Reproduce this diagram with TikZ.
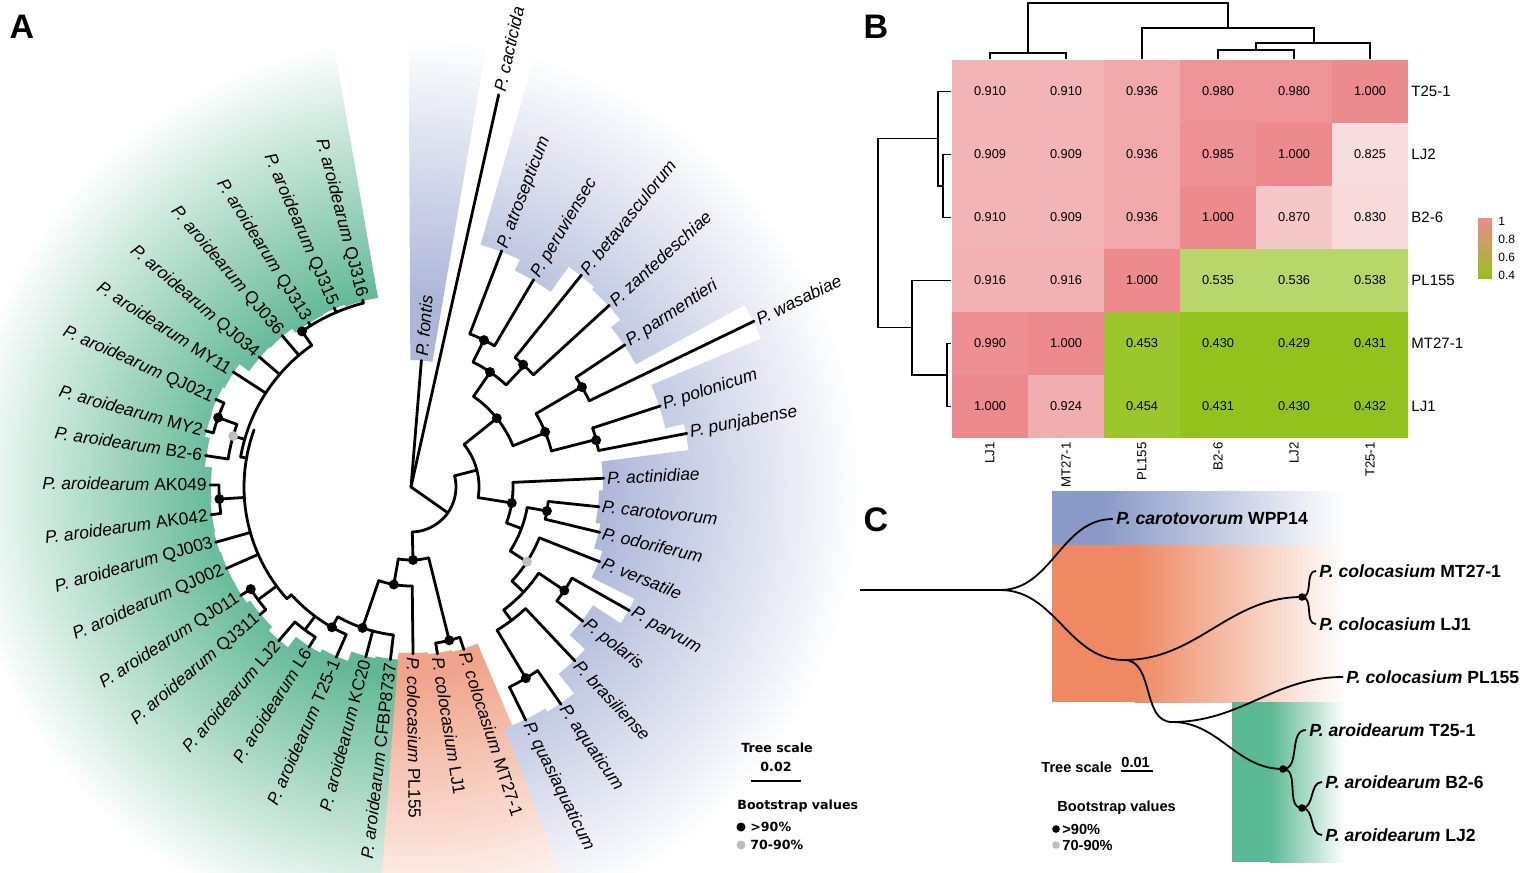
\documentclass[tikz,border=0pt]{standalone}
\usepackage{fontspec}
\setmainfont{Liberation Sans}
\newfontfamily\legfont{DejaVu Sans}

\definecolor{aroG}{RGB}{96,184,150}
\definecolor{colO}{RGB}{240,165,138}
\definecolor{othB}{RGB}{172,182,216}
\definecolor{hpink}{RGB}{236,138,142}
\definecolor{hgreen}{RGB}{148,194,28}
\definecolor{cblue}{RGB}{137,153,200}
\definecolor{corange}{RGB}{238,137,98}
\definecolor{cgreen}{RGB}{90,185,150}
\definecolor{bsgray}{RGB}{190,190,190}

\pgfdeclareradialshading{fadeG}{\pgfpoint{0bp}{0bp}}{color(0bp)=(aroG); color(10.5bp)=(aroG); color(25bp)=(white); color(50bp)=(white)}
\pgfdeclareradialshading{fadeO}{\pgfpoint{0bp}{0bp}}{color(0bp)=(colO); color(10.5bp)=(colO); color(25bp)=(white); color(50bp)=(white)}
\pgfdeclareradialshading{fadeB}{\pgfpoint{0bp}{0bp}}{color(0bp)=(othB); color(10.5bp)=(othB); color(25bp)=(white); color(50bp)=(white)}

% polar tree helpers: angle, radius
\newcommand{\brad}[3]{\draw[branch] ({#1}:#2) -- ({#1}:#3);}
\newcommand{\barc}[3]{\draw[branch] ({#1}:#3) arc[start angle={#1}, end angle={#2}, radius=#3];}
\newcommand{\bdot}[2]{\fill ({#1}:#2) circle (5);}
\newcommand{\gdot}[2]{\fill[bsgray] ({#1}:#2) circle (5);}
\newcommand{\lwedge}[2]{({#1-5}:#2) arc[start angle={#1-5}, end angle={#1+5}, radius=#2] -- ({#1+5}:450) arc[start angle={#1+5}, end angle={#1-5}, radius=450] -- cycle}

\begin{document}
\begin{tikzpicture}[
    x=0.5pt, y=0.5pt,
    branch/.style={line width=1.4pt, line cap=round, line join=round},
    leafR/.style={font=\fontsize{8.7}{10}\selectfont, inner sep=0pt, anchor=west},
    leafL/.style={font=\fontsize{8.7}{10}\selectfont, inner sep=0pt, anchor=east},
    panel/.style={font=\fontsize{17}{20}\selectfont\bfseries, inner sep=0pt},
    aleg/.style={font=\legfont\fontsize{6.3}{7.5}\selectfont\bfseries, inner sep=0pt},
    hcell/.style={minimum width=38.4pt, minimum height=31.9pt, inner sep=0pt, font=\fontsize{6.4}{7.5}\selectfont},
    rowlab/.style={font=\fontsize{7.5}{9}\selectfont, inner sep=0pt, anchor=west},
    collab/.style={font=\fontsize{6.6}{8}\selectfont, inner sep=0pt, anchor=east, rotate=90},
    dendro/.style={line width=0.6pt},
    cbranch/.style={line width=0.9pt, out=0, in=180},
    clab/.style={font=\fontsize{8.8}{10}\selectfont\bfseries, inner sep=0pt, anchor=west},
    cleg/.style={font=\fontsize{7.3}{9}\selectfont\bfseries, inner sep=0pt, anchor=west}
]
    \useasboundingbox (0,0) rectangle (1524,-872);

    % Panel letters
    \node[panel] (pa) at (22,-27) {A};
    \node[panel] (pb) at (876,-27) {B};
    \node[panel] (pc) at (876,-520) {C};

    % ---------------- A: circular tree ----------------
    \begin{scope}[shift={(411,-487)}]
    % Label backgrounds
    \begin{scope}
        \clip \lwedge{-96.8}{173} \lwedge{-104.9}{175} \lwedge{-113.7}{185} \lwedge{-122.5}{189}
              \lwedge{-130.7}{202} \lwedge{-139.8}{197} \lwedge{-147.5}{201} \lwedge{-156.2}{201}
              \lwedge{-164.2}{202} \lwedge{-172.1}{201} \lwedge{179.4}{200} \lwedge{171.3}{207}
              \lwedge{164.7}{212} \lwedge{155.8}{213} \lwedge{147.1}{211} \lwedge{139.4}{199}
              \lwedge{130.4}{198} \lwedge{121.9}{193} \lwedge{113.2}{194} \lwedge{104.9}{192};
        \shade[shading=fadeG] (0,0) circle (450);
    \end{scope}
    \begin{scope}
        \clip \lwedge{-89.3}{166} \lwedge{-81}{168} \lwedge{-72}{170};
        \shade[shading=fadeO] (0,0) circle (450);
    \end{scope}
    \begin{scope}
        \clip \lwedge{85.3}{127} \lwedge{69}{252} \lwedge{59.4}{240} \lwedge{51.2}{271}
              \lwedge{42.5}{268} \lwedge{33.6}{256} \lwedge{25.8}{380} \lwedge{18}{261}
              \lwedge{11}{280} \lwedge{2.6}{192} \lwedge{-6}{188} \lwedge{-13.5}{193}
              \lwedge{-21.6}{202} \lwedge{-29.5}{250} \lwedge{-38}{217} \lwedge{-46.7}{238}
              \lwedge{-55.4}{263} \lwedge{-63.8}{259};
        \shade[shading=fadeB] (0,0) circle (450);
    \end{scope}

    % Root
    \brad{77.4}{0}{402}
    \brad{85.3}{0}{127}
    \brad{-35}{0}{45}
    \barc{-88.4}{14.4}{45}
    \brad{14.4}{45}{68}
    \barc{-9}{38.7}{68}

    % Upper right clade
    \brad{38.7}{68}{110}
    \barc{22}{55.4}{110}
    \brad{55.4}{110}{139.5}
    \barc{47}{63.6}{139.5}
    \brad{63.6}{139.5}{164}
    \barc{59.4}{69}{164}
    \brad{69}{164}{253}
    \brad{59.4}{164}{241}
    \brad{47}{139.5}{166}
    \barc{42.5}{51.2}{166}
    \brad{51.2}{166}{272}
    \brad{42.5}{166}{269}
    \brad{22}{110}{145}
    \barc{14.4}{30.4}{145}
    \brad{30.4}{145}{198}
    \barc{25.8}{33.6}{198}
    \brad{33.6}{198}{257}
    \brad{25.8}{198}{381}
    \brad{14.4}{145}{191}
    \barc{11}{18}{191}
    \brad{18}{191}{262}
    \brad{11}{191}{281}

    % Lower right clade
    \brad{-9}{68}{102}
    \barc{-20.6}{2.6}{102}
    \brad{2.6}{102}{193}
    \brad{-20.6}{102}{118}
    \barc{-32.8}{-10}{118}
    \brad{-10}{118}{138}
    \barc{-13.5}{-6}{138}
    \brad{-6}{138}{189}
    \brad{-13.5}{138}{194}
    \brad{-32.8}{118}{138}
    \barc{-43}{-21.6}{138}
    \brad{-21.6}{138}{203}
    \brad{-43}{138}{154}
    \barc{-53}{-34}{154}
    \brad{-34}{154}{185}
    \barc{-38}{-29.5}{185}
    \brad{-29.5}{185}{251}
    \brad{-38}{185}{218}
    \brad{-53}{154}{167}
    \barc{-59}{-46.7}{167}
    \brad{-46.7}{167}{239}
    \brad{-59}{167}{223}
    \barc{-63.8}{-55.4}{223}
    \brad{-55.4}{223}{264}
    \brad{-63.8}{223}{260}

    % Colocasium and aroidearum
    \brad{-88.4}{45}{73}
    \barc{-100}{-76}{73}
    \brad{-76}{73}{158}
    \barc{-81}{-72}{158}
    \brad{-81}{158}{169}
    \brad{-72}{158}{171}
    \brad{-100}{73}{99}
    \barc{-109}{-89.3}{99}
    \brad{-89.3}{99}{167}
    \brad{-109}{99}{149}
    \barc{-119.4}{-96.8}{149}
    \brad{-96.8}{149}{174}
    \brad{-104.9}{149}{176}
    \brad{-119.4}{149}{161}
    \barc{-138}{-113.7}{161}
    \brad{-113.7}{161}{186}
    \brad{-126.6}{161}{178}
    \barc{-130.7}{-122.5}{178}
    \brad{-122.5}{178}{190}
    \brad{-130.7}{178}{203}
    \brad{-138}{161}{167}
    \barc{-200}{-138}{167}
    \brad{-143.6}{167}{190}
    \barc{-147.5}{-139.8}{190}
    \brad{-139.8}{190}{198}
    \brad{-147.5}{190}{202}
    \brad{-156.2}{167}{202}
    \brad{-164.2}{167}{203}
    \brad{-176.4}{167}{192}
    \barc{-180.6}{-172.1}{192}
    \brad{-172.1}{192}{202}
    \brad{179.4}{192}{201}
    \brad{-190}{167}{173}
    \barc{-235}{-190}{173}
    \brad{164}{173}{185}
    \barc{160.2}{171.3}{185}
    \brad{171.3}{185}{208}
    \brad{160.2}{185}{205}
    \barc{155.8}{164.7}{205}
    \brad{164.7}{205}{213}
    \brad{155.8}{205}{214}
    \brad{147.1}{173}{212}
    \brad{139.4}{173}{200}
    \brad{130.4}{173}{199}
    \brad{125}{173}{190}
    \barc{104.5}{125}{190}
    \brad{121.9}{190}{194}
    \brad{113.2}{190}{195}
    \brad{104.5}{190}{193}

    % Bootstrap dots
    \bdot{38.7}{110} \bdot{55.5}{139.5} \bdot{63.6}{164} \bdot{47.5}{166}
    \bdot{22.3}{145} \bdot{30.3}{198} \bdot{14.2}{191} \bdot{-9}{102}
    \bdot{-10}{138} \bdot{-34}{185} \bdot{-59}{223} \bdot{-88.4}{73}
    \bdot{-76}{158} \bdot{-100}{99} \bdot{-109}{149} \bdot{-119.4}{161}
    \bdot{-147.5}{190} \bdot{-176.4}{192} \bdot{160.2}{205} \bdot{125}{190}
    \gdot{-32.8}{138} \gdot{164}{185}

    % Leaf labels, right side
    \node[leafR, rotate=77.4] (lcacti) at (77.4:405) {\textit{P. cacticida}};
    \node[leafR, rotate=85.3] (lfontis) at (85.3:131) {\textit{P. fontis}};
    \node[leafR, rotate=69] (latro) at (69:256) {\textit{P. atrosepticum}};
    \node[leafR, rotate=59.4] (lperu) at (59.4:244) {\textit{P. peruviensec}};
    \node[leafR, rotate=51.2] (lbeta) at (51.2:275) {\textit{P. betavasculorum}};
    \node[leafR, rotate=42.5] (lzant) at (42.5:272) {\textit{P. zantedeschiae}};
    \node[leafR, rotate=33.6] (lparm) at (33.6:260) {\textit{P. parmentieri}};
    \node[leafR, rotate=25.8] (lwasa) at (25.8:384) {\textit{P. wasabiae}};
    \node[leafR, rotate=18] (lpolo) at (18:265) {\textit{P. polonicum}};
    \node[leafR, rotate=11] (lpunj) at (11:284) {\textit{P. punjabense}};
    \node[leafR, rotate=2.6] (lacti) at (2.6:196) {\textit{P. actinidiae}};
    \node[leafR, rotate=-6] (lcaro) at (-6:192) {\textit{P. carotovorum}};
    \node[leafR, rotate=-13.5] (lodor) at (-13.5:197) {\textit{P. odoriferum}};
    \node[leafR, rotate=-21.6] (lvers) at (-21.6:206) {\textit{P. versatile}};
    \node[leafR, rotate=-29.5] (lparv) at (-29.5:254) {\textit{P. parvum}};
    \node[leafR, rotate=-38] (lpola) at (-38:221) {\textit{P. polaris}};
    \node[leafR, rotate=-46.7] (lbras) at (-46.7:242) {\textit{P. brasiliense}};
    \node[leafR, rotate=-55.4] (laqua) at (-55.4:267) {\textit{P. aquaticum}};
    \node[leafR, rotate=-63.8] (lquas) at (-63.8:263) {\textit{P. quasiaquaticum}};
    \node[leafR, rotate=-72] (lmt) at (-72:174) {\textit{P. colocasium} MT27-1};
    \node[leafR, rotate=-81] (llj) at (-81:172) {\textit{P. colocasium} LJ1};
    \node[leafR, rotate=-89.3] (lpl) at (-89.3:170) {\textit{P. colocasium} PL155};

    % Leaf labels, left side
    \node[leafL, rotate=83.2] (lcfbp) at (-96.8:177) {\textit{P. aroidearum} CFBP8737};
    \node[leafL, rotate=75.1] (lkc) at (-104.9:179) {\textit{P. aroidearum} KC20};
    \node[leafL, rotate=66.3] (lt25) at (-113.7:189) {\textit{P. aroidearum} T25-1};
    \node[leafL, rotate=57.5] (ll6) at (-122.5:193) {\textit{P. aroidearum} L6};
    \node[leafL, rotate=49.3] (llj2) at (-130.7:206) {\textit{P. aroidearum} LJ2};
    \node[leafL, rotate=40.2] (lq311) at (-139.8:201) {\textit{P. aroidearum} QJ311};
    \node[leafL, rotate=32.5] (lq011) at (-147.5:205) {\textit{P. aroidearum} QJ011};
    \node[leafL, rotate=23.8] (lq002) at (-156.2:205) {\textit{P. aroidearum} QJ002};
    \node[leafL, rotate=15.8] (lq003) at (-164.2:206) {\textit{P. aroidearum} QJ003};
    \node[leafL, rotate=7.9] (lak42) at (-172.1:205) {\textit{P. aroidearum} AK042};
    \node[leafL, rotate=-0.6] (lak49) at (179.4:204) {\textit{P. aroidearum} AK049};
    \node[leafL, rotate=-8.7] (lb26) at (171.3:211) {\textit{P. aroidearum} B2-6};
    \node[leafL, rotate=-15.3] (lmy2) at (164.7:216) {\textit{P. aroidearum} MY2};
    \node[leafL, rotate=-24.2] (lq021) at (155.8:217) {\textit{P. aroidearum} QJ021};
    \node[leafL, rotate=-32.9] (lmy11) at (147.1:215) {\textit{P. aroidearum} MY11};
    \node[leafL, rotate=-40.6] (lq034) at (139.4:203) {\textit{P. aroidearum} QJ034};
    \node[leafL, rotate=-49.6] (lq036) at (130.4:202) {\textit{P. aroidearum} QJ036};
    \node[leafL, rotate=-58.1] (lq313) at (121.9:197) {\textit{P. aroidearum} QJ313};
    \node[leafL, rotate=-66.8] (lq315) at (113.2:198) {\textit{P. aroidearum} QJ315};
    \node[leafL, rotate=-75.5] (lq316) at (104.5:196) {\textit{P. aroidearum} QJ316};
    \end{scope}

    % Legend A
    \node[aleg] (atscale) at (777,-748) {Tree scale};
    \node[aleg] (atsval) at (776,-767) {0.02};
    \draw[line width=1.2pt] (751,-781) -- (801,-781);
    \node[aleg, anchor=west] (abs) at (737,-806) {Bootstrap values};
    \fill (741,-827) circle (4.5);
    \node[aleg, anchor=west] (ab90) at (750,-827) {>90\%};
    \fill[bsgray] (741,-845) circle (4.5);
    \node[aleg, anchor=west] (ab70) at (750,-845) {70-90\%};

    % ---------------- B: heatmap ----------------
    \node[hcell, fill=hpink!64!white] (h11) at (990,-91.5) {0.910};
    \node[hcell, fill=hpink!64!white] (h12) at (1066,-91.5) {0.910};
    \node[hcell, fill=hpink!74!white] (h13) at (1142,-91.5) {0.936};
    \node[hcell, fill=hpink!92!white] (h14) at (1218,-91.5) {0.980};
    \node[hcell, fill=hpink!92!white] (h15) at (1294,-91.5) {0.980};
    \node[hcell, fill=hpink] (h16) at (1370,-91.5) {1.000};
    \node[hcell, fill=hpink!64!white] (h21) at (990,-154.5) {0.909};
    \node[hcell, fill=hpink!64!white] (h22) at (1066,-154.5) {0.909};
    \node[hcell, fill=hpink!74!white] (h23) at (1142,-154.5) {0.936};
    \node[hcell, fill=hpink!94!white] (h24) at (1218,-154.5) {0.985};
    \node[hcell, fill=hpink] (h25) at (1294,-154.5) {1.000};
    \node[hcell, fill=hpink!30!white] (h26) at (1370,-154.5) {0.825};
    \node[hcell, fill=hpink!64!white] (h31) at (990,-217.5) {0.910};
    \node[hcell, fill=hpink!64!white] (h32) at (1066,-217.5) {0.909};
    \node[hcell, fill=hpink!74!white] (h33) at (1142,-217.5) {0.936};
    \node[hcell, fill=hpink] (h34) at (1218,-217.5) {1.000};
    \node[hcell, fill=hpink!48!white] (h35) at (1294,-217.5) {0.870};
    \node[hcell, fill=hpink!32!white] (h36) at (1370,-217.5) {0.830};
    \node[hcell, fill=hpink!66!white] (h41) at (990,-280.5) {0.916};
    \node[hcell, fill=hpink!66!white] (h42) at (1066,-280.5) {0.916};
    \node[hcell, fill=hpink] (h43) at (1142,-280.5) {1.000};
    \node[hcell, fill=hgreen!66!white] (h44) at (1218,-280.5) {0.535};
    \node[hcell, fill=hgreen!66!white] (h45) at (1294,-280.5) {0.536};
    \node[hcell, fill=hgreen!66!white] (h46) at (1370,-280.5) {0.538};
    \node[hcell, fill=hpink!96!white] (h51) at (990,-343.5) {0.990};
    \node[hcell, fill=hpink] (h52) at (1066,-343.5) {1.000};
    \node[hcell, fill=hgreen!93!white] (h53) at (1142,-343.5) {0.453};
    \node[hcell, fill=hgreen] (h54) at (1218,-343.5) {0.430};
    \node[hcell, fill=hgreen] (h55) at (1294,-343.5) {0.429};
    \node[hcell, fill=hgreen] (h56) at (1370,-343.5) {0.431};
    \node[hcell, fill=hpink] (h61) at (990,-406.5) {1.000};
    \node[hcell, fill=hpink!70!white] (h62) at (1066,-406.5) {0.924};
    \node[hcell, fill=hgreen!93!white] (h63) at (1142,-406.5) {0.454};
    \node[hcell, fill=hgreen] (h64) at (1218,-406.5) {0.431};
    \node[hcell, fill=hgreen] (h65) at (1294,-406.5) {0.430};
    \node[hcell, fill=hgreen] (h66) at (1370,-406.5) {0.432};

    % Row and column labels
    \node[rowlab] (r1) at (1411,-91.5) {T25-1};
    \node[rowlab] (r2) at (1411,-154.5) {LJ2};
    \node[rowlab] (r3) at (1411,-217.5) {B2-6};
    \node[rowlab] (r4) at (1411,-280.5) {PL155};
    \node[rowlab] (r5) at (1411,-343.5) {MT27-1};
    \node[rowlab] (r6) at (1411,-406.5) {LJ1};
    \node[collab] (k1) at (990,-442) {LJ1};
    \node[collab] (k2) at (1066,-442) {MT27-1};
    \node[collab] (k3) at (1142,-442) {PL155};
    \node[collab] (k4) at (1218,-442) {B2-6};
    \node[collab] (k5) at (1294,-442) {LJ2};
    \node[collab] (k6) at (1370,-442) {T25-1};

    % Dendrograms
    \draw[dendro] (990,-59) -- (990,-53) -- (1066,-53) -- (1066,-59);
    \draw[dendro] (1028,-53) -- (1028,-3) -- (1228,-3) -- (1228,-28);
    \draw[dendro] (1142,-59) -- (1142,-28) -- (1314,-28) -- (1314,-43);
    \draw[dendro] (1256,-50) -- (1256,-43) -- (1370,-43) -- (1370,-59);
    \draw[dendro] (1218,-59) -- (1218,-50) -- (1294,-50) -- (1294,-59);
    \draw[dendro] (951,-91.5) -- (938,-91.5) -- (938,-186) -- (943,-186);
    \draw[dendro] (951,-154.5) -- (943,-154.5) -- (943,-217.5) -- (951,-217.5);
    \draw[dendro] (938,-138.5) -- (878,-138.5) -- (878,-327.5) -- (912,-327.5);
    \draw[dendro] (951,-280.5) -- (912,-280.5) -- (912,-375) -- (947,-375);
    \draw[dendro] (951,-343.5) -- (947,-343.5) -- (947,-406.5) -- (951,-406.5);

    % Colour key
    \shade[top color=hpink, middle color=white, bottom color=hgreen] (1478,-218) rectangle (1492,-278);
    \node[rowlab, font=\fontsize{6}{7}\selectfont] (key1) at (1498,-221) {1};
    \node[rowlab, font=\fontsize{6}{7}\selectfont] (key8) at (1498,-239) {0.8};
    \node[rowlab, font=\fontsize{6}{7}\selectfont] (key6) at (1498,-257) {0.6};
    \node[rowlab, font=\fontsize{6}{7}\selectfont] (key4) at (1498,-275) {0.4};

    % ---------------- C: curved tree ----------------
    \fill[cblue] (1052,-491) rectangle (1100,-545);
    \shade[left color=cblue, right color=white] (1100,-491) rectangle (1345,-545);
    \fill[corange] (1052,-545) rectangle (1135,-702);
    \shade[left color=corange, right color=white] (1135,-545) rectangle (1345,-702);
    \fill[cgreen] (1232,-702) rectangle (1270,-862);
    \shade[left color=cgreen, right color=white] (1270,-702) rectangle (1345,-862);

    \coordinate (croot) at (860,-590);
    \coordinate (c0) at (1000,-590);
    \coordinate (cwpp) at (1113,-519);
    \coordinate (c1) at (1124,-660);
    \coordinate (c2) at (1302,-597);
    \coordinate (cmt) at (1316,-571);
    \coordinate (clj1) at (1316,-624);
    \coordinate (c3) at (1172,-722);
    \coordinate (cpl) at (1343,-677);
    \coordinate (c4) at (1283,-769);
    \coordinate (ct25) at (1306,-730);
    \coordinate (c5) at (1302,-808);
    \coordinate (cb26) at (1322,-782);
    \coordinate (clj2) at (1322,-835);

    \draw[line width=0.9pt] (croot) -- (c0);
    \draw[cbranch] (c0) to (cwpp);
    \draw[cbranch] (c0) to (c1);
    \draw[cbranch] (c1) to (c2);
    \draw[cbranch] (c2) to (cmt);
    \draw[cbranch] (c2) to (clj1);
    \draw[cbranch] (c1) to (c3);
    \draw[cbranch] (c3) to (cpl);
    \draw[cbranch] (c3) to (c4);
    \draw[cbranch] (c4) to (ct25);
    \draw[cbranch] (c4) to (c5);
    \draw[cbranch] (c5) to (cb26);
    \draw[cbranch] (c5) to (clj2);
    \fill (c2) circle (3.8);
    \fill (c4) circle (3.8);
    \fill (c5) circle (3.8);

    \node[clab] (nwpp) at (1116,-519) {\textit{P. carotovorum} WPP14};
    \node[clab] (nmt) at (1319,-571) {\textit{P. colocasium} MT27-1};
    \node[clab] (nlj1) at (1319,-624) {\textit{P. colocasium} LJ1};
    \node[clab] (npl) at (1346,-677) {\textit{P. colocasium} PL155};
    \node[clab] (nt25) at (1309,-730) {\textit{P. aroidearum} T25-1};
    \node[clab] (nb26) at (1325,-782) {\textit{P. aroidearum} B2-6};
    \node[clab] (nlj2) at (1325,-835) {\textit{P. aroidearum} LJ2};

    % Legend C
    \node[cleg] (ctscale) at (1041,-767) {Tree scale};
    \node[cleg] (ctsval) at (1121,-762) {0.01};
    \draw[line width=1pt] (1121,-771) -- (1153,-771);
    \node[cleg] (cbs) at (1057,-808) {Bootstrap values};
    \fill (1056,-829) circle (3.8);
    \node[cleg] (cb90) at (1062,-829) {>90\%};
    \fill[bsgray] (1056,-845) circle (3.8);
    \node[cleg] (cb70) at (1062,-845) {70-90\%};

\end{tikzpicture}
\end{document}
